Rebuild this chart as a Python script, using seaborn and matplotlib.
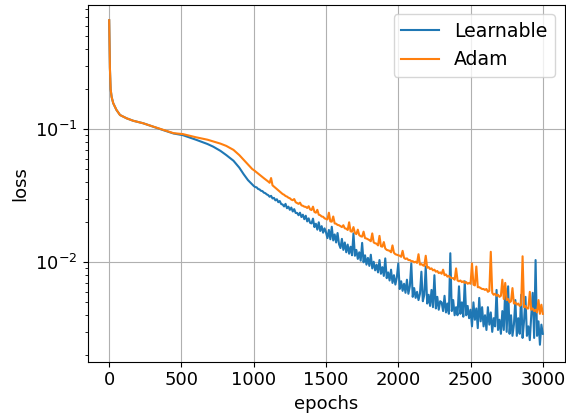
import matplotlib
matplotlib.use("Agg")
import matplotlib.pyplot as plt
import numpy as np
import pandas as pd
import seaborn as sns

# Training loss per optimiser: warm-up segment at irregular epochs,
# then the long tail sampled every 10 epochs from 1000 to 3000.
epochs_head = [0, 2, 5, 10, 17, 28, 50, 75, 120, 165, 235, 305, 375, 445,
               510, 600, 680, 720, 770, 810, 860, 900, 930, 960, 990]

learnable_head = [0.66, 0.45, 0.29, 0.20, 0.175, 0.157, 0.140, 0.128, 0.121,
                  0.116, 0.111, 0.1045, 0.0985, 0.0930, 0.0903, 0.0835, 0.0775,
                  0.0740, 0.0688, 0.0640, 0.0580, 0.0515, 0.0460, 0.0415, 0.0384]

adam_head = [0.66, 0.45, 0.29, 0.20, 0.175, 0.157, 0.140, 0.128, 0.121,
             0.116, 0.111, 0.1047, 0.0990, 0.0935, 0.0920, 0.0871, 0.0835,
             0.0810, 0.0780, 0.0750, 0.0700, 0.0640, 0.0590, 0.0545, 0.0502]

epochs_tail = list(range(1000, 3001, 10))

learnable_tail = [
    0.0375, 0.0368, 0.0366, 0.0356, 0.0353, 0.0345, 0.0343, 0.0334, 0.0331, 0.0324,
    0.0320, 0.0311, 0.0316, 0.0302, 0.0305, 0.0292, 0.0298, 0.0283, 0.0289, 0.0274,
    0.0272, 0.0263, 0.0275, 0.0255, 0.0262, 0.0248, 0.0258, 0.0241, 0.0251, 0.0235,
    0.0235, 0.0226, 0.0236, 0.0219, 0.0228, 0.0211, 0.0224, 0.0203, 0.0214, 0.0198,
    0.0196, 0.0213, 0.0184, 0.0195, 0.0176, 0.0200, 0.0172, 0.0187, 0.0167, 0.0180,
    0.0168, 0.0152, 0.0175, 0.0149, 0.0185, 0.0146, 0.0162, 0.0141, 0.0166, 0.0137,
    0.0128, 0.0150, 0.0124, 0.0141, 0.0119, 0.0136, 0.0116, 0.0131, 0.0113, 0.0165,
    0.0112, 0.0124, 0.0106, 0.0119, 0.0103, 0.0140, 0.0100, 0.0113, 0.0096, 0.0108,
    0.0094, 0.0114, 0.0090, 0.0101, 0.0087, 0.0096, 0.0084, 0.0104, 0.0082, 0.0092,
    0.0079, 0.0107, 0.0076, 0.0084, 0.0073, 0.0088, 0.0070, 0.0080, 0.0068, 0.0077,
    0.0098, 0.0063, 0.0072, 0.0061, 0.0069, 0.0059, 0.0074, 0.0058, 0.0066, 0.0098,
    0.0055, 0.0064, 0.0054, 0.0060, 0.0052, 0.0058, 0.0085, 0.0051, 0.0057, 0.0093,
    0.0049, 0.0057, 0.0047, 0.0062, 0.0046, 0.0080, 0.0045, 0.0055, 0.0044, 0.0051,
    0.0050, 0.0043, 0.0056, 0.0042, 0.0049, 0.0041, 0.0117, 0.0043, 0.0052, 0.0040,
    0.0046, 0.0040, 0.0066, 0.0041, 0.0050, 0.0039, 0.0072, 0.0040, 0.0047, 0.0038,
    0.0044, 0.0033, 0.0050, 0.0037, 0.0045, 0.0032, 0.0054, 0.0036, 0.0046, 0.0033,
    0.0040, 0.0031, 0.0046, 0.0034, 0.0042, 0.0030, 0.0038, 0.0033, 0.0062, 0.0031,
    0.0037, 0.0029, 0.0043, 0.0031, 0.0064, 0.0030, 0.0066, 0.0029, 0.0040, 0.0028,
    0.0034, 0.0052, 0.0028, 0.0038, 0.0029, 0.0057, 0.0027, 0.0036, 0.0055, 0.0028,
    0.0033, 0.0026, 0.0040, 0.0059, 0.0027, 0.0104, 0.0028, 0.0036, 0.0024, 0.0034,
    0.0029,
]

adam_tail = [
    0.0494, 0.0484, 0.0474, 0.0465, 0.0456, 0.0447, 0.0438, 0.0429, 0.0421, 0.0413,
    0.0405, 0.0396, 0.0430, 0.0379, 0.0371, 0.0363, 0.0355, 0.0348, 0.0340, 0.0333,
    0.0326, 0.0322, 0.0315, 0.0312, 0.0306, 0.0303, 0.0296, 0.0293, 0.0299, 0.0283,
    0.0279, 0.0275, 0.0281, 0.0268, 0.0266, 0.0262, 0.0261, 0.0256, 0.0264, 0.0250,
    0.0247, 0.0262, 0.0239, 0.0236, 0.0248, 0.0228, 0.0226, 0.0221, 0.0220, 0.0214,
    0.0212, 0.0210, 0.0236, 0.0203, 0.0202, 0.0221, 0.0196, 0.0195, 0.0191, 0.0190,
    0.0187, 0.0184, 0.0190, 0.0180, 0.0179, 0.0175, 0.0200, 0.0171, 0.0170, 0.0184,
    0.0166, 0.0163, 0.0176, 0.0160, 0.0157, 0.0156, 0.0170, 0.0152, 0.0151, 0.0149,
    0.0147, 0.0144, 0.0165, 0.0141, 0.0139, 0.0138, 0.0134, 0.0158, 0.0132, 0.0131,
    0.0142, 0.0127, 0.0124, 0.0123, 0.0122, 0.0119, 0.0134, 0.0118, 0.0115, 0.0114,
    0.0113, 0.0112, 0.0110, 0.0122, 0.0108, 0.0106, 0.0107, 0.0104, 0.0104, 0.0102,
    0.0102, 0.0100, 0.0101, 0.0099, 0.0115, 0.0096, 0.0097, 0.0095, 0.0094, 0.0112,
    0.0091, 0.0092, 0.0089, 0.0090, 0.0087, 0.0088, 0.0085, 0.0086, 0.0083, 0.0084,
    0.0082, 0.0088, 0.0080, 0.0081, 0.0078, 0.0079, 0.0077, 0.0076, 0.0076, 0.0074,
    0.0090, 0.0073, 0.0072, 0.0073, 0.0071, 0.0072, 0.0070, 0.0071, 0.0069, 0.0070,
    0.0069, 0.0098, 0.0068, 0.0067, 0.0093, 0.0065, 0.0065, 0.0064, 0.0063, 0.0063,
    0.0062, 0.0063, 0.0060, 0.0061, 0.0120, 0.0059, 0.0057, 0.0058, 0.0056, 0.0057,
    0.0055, 0.0056, 0.0074, 0.0053, 0.0070, 0.0052, 0.0053, 0.0050, 0.0051, 0.0064,
    0.0049, 0.0050, 0.0048, 0.0049, 0.0047, 0.0048, 0.0111, 0.0046, 0.0047, 0.0045,
    0.0045, 0.0060, 0.0044, 0.0045, 0.0043, 0.0044, 0.0042, 0.0052, 0.0041, 0.0048,
    0.0041,
]

series_names = ["Learnable", "Adam"]
series_colors = ["#1f77b4", "#ff7f0e"]

epochs = epochs_head + epochs_tail
frames = []
for name, head, tail in [("Learnable", learnable_head, learnable_tail),
                         ("Adam", adam_head, adam_tail)]:
    frames.append(pd.DataFrame({"epochs": epochs,
                                "loss": head + tail,
                                "optimizer": name}))
df = pd.concat(frames, ignore_index=True)

fig = plt.figure(figsize=(5.66, 4.16), dpi=100)
ax = fig.add_axes([87.5 / 566, 1 - 361.7 / 416, 477 / 566, 357 / 416])

sns.lineplot(data=df, x="epochs", y="loss", hue="optimizer",
             hue_order=series_names, palette=series_colors,
             linewidth=1.5, ax=ax, estimator=None, sort=False)

ax.set_yscale("log")
ax.set_xlim(-150, 3150)
ax.set_ylim(0.00179, 0.864)
ax.set_xticks([0, 500, 1000, 1500, 2000, 2500, 3000])
ax.grid(True, which="major", color="#b0b0b0", linewidth=0.8)
ax.set_axisbelow(True)

fs = 13
ax.tick_params(axis="both", which="major", labelsize=fs)
ax.set_xlabel("epochs", fontsize=fs)
ax.set_ylabel("loss", fontsize=fs)

handles, labels = ax.get_legend_handles_labels()
ax.legend(handles, labels, loc="upper right", fontsize=13.6, frameon=True)

fig.savefig("out.png", dpi=100)
